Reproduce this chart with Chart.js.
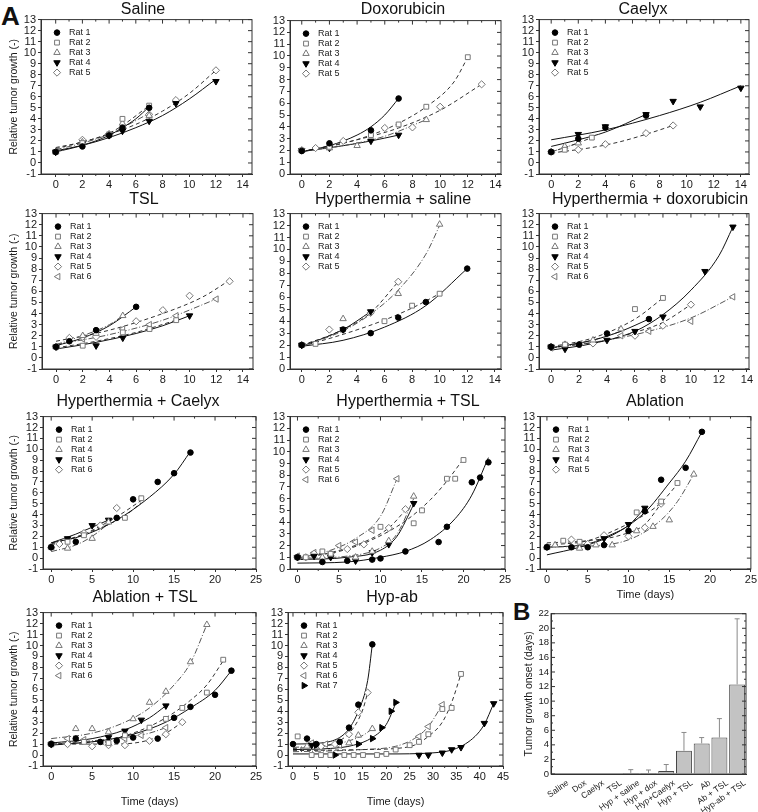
<!DOCTYPE html>
<html>
<head>
<meta charset="utf-8">
<title>Relative tumor growth</title>
<script src="https://cdn.jsdelivr.net/npm/chart.js@4.4.1/dist/chart.umd.min.js"></script>
<style>
  body { margin: 0; width: 758px; height: 812px; position: relative; overflow: hidden; background: #fff;
         font-family: "Liberation Sans", Arial, sans-serif; color: #111; }
  canvas { position: absolute; }
  .ttl { position: absolute; font-size: 16px; white-space: nowrap; transform: translate(-50%, -50%); }
  .tag { position: absolute; font-size: 26px; font-weight: bold; line-height: 1; }
</style>
</head>
<body>
<div class="tag" style="left:1px;top:3px">A</div>
<div class="tag" style="left:513px;top:600px;font-size:24px">B</div>
<script>
// axis ticks
const days14 = [0, 2, 4, 6, 8, 10, 12, 14];
const days25 = [0, 5, 10, 15, 20, 25];
const days45 = [0, 5, 10, 15, 20, 25, 30, 35, 40, 45];
const growthTicks = [-1, 0, 1, 2, 3, 4, 5, 6, 7, 8, 9, 10, 11, 12, 13];
const growthTicksPos = [0, 1, 2, 3, 4, 5, 6, 7, 8, 9, 10, 11, 12, 13];
const onsetTicks = [0, 2, 4, 6, 8, 10, 12, 14, 16, 18, 20, 22];

const rats = ['Rat 1', 'Rat 2', 'Rat 3', 'Rat 4', 'Rat 5', 'Rat 6', 'Rat 7'];
const hypCaelyxRats = ['Rat 1', 'Rat 2', 'Rat 4', 'Rat 5', 'Rat 6'];

// measured points [day, relative growth] per rat, and read-off fit curves
const salinePts = [
  [[0, 1], [2, 1.5], [4, 2.5], [5, 3.2], [7, 5.0]],
  [[0, 1], [2, 1.8], [4, 2.6], [5, 4.0], [7, 5.2]],
  [[0, 1], [2, 1.9], [4, 2.6], [5, 3.6], [7, 4.3]],
  [[0, 1], [2, 1.7], [4, 2.5], [5, 2.9], [7, 3.8], [9, 5.4], [12, 7.4]],
  [[0, 1], [2, 2.1], [4, 2.6], [5, 3.1], [7, 4.4], [9, 5.7], [12, 8.4]]
];
const salineFit = [
  [[0, 1.0], [2, 1.6], [4, 2.5], [5, 3.2], [6, 4.0], [7, 5.1]],
  [[0, 1.4], [2, 1.9], [4, 2.7], [5, 3.4], [7, 5.2]],
  [[0, 1.2], [2, 1.8], [4, 2.6], [5, 3.2], [7, 4.5]],
  [[0, 1.1], [2, 1.6], [4, 2.3], [6, 3.2], [8, 4.3], [10, 5.8], [12, 7.6]],
  [[0, 1.3], [2, 1.9], [4, 2.6], [6, 3.5], [8, 4.7], [10, 6.3], [12, 8.4]]
];

const doxPts = [
  [[0, 1.95], [2, 2.6], [5, 3.7], [7, 6.4]],
  [[0, 2.0], [2, 2.3], [5, 3.3], [7, 4.2], [9, 5.7], [12, 9.9]],
  [[0, 2.0], [2, 2.2], [4, 2.4], [9, 4.6]],
  [[0, 2.0], [2, 2.2], [5, 2.8], [7, 3.3]],
  [[0, 2.0], [1, 2.2], [3, 2.8], [6, 3.9], [8, 3.95], [10, 5.7], [13, 7.6]]
];
const doxFit = [
  [[0, 1.9], [2, 2.4], [4, 3.3], [5, 4.0], [6, 5.0], [7, 6.4]],
  [[0, 1.9], [3, 2.6], [5, 3.3], [7, 4.3], [9, 5.7], [11, 7.8], [12, 9.9]],
  [[0, 1.9], [3, 2.4], [6, 3.2], [9, 4.6]],
  [[0, 1.9], [3, 2.4], [5, 2.8], [7, 3.3]],
  [[0, 1.9], [4, 2.9], [7, 3.9], [10, 5.4], [13, 7.6]]
];

const caelyxPts = [
  [[0, 1.0], [2, 2.2], [4, 3.2], [7, 4.3]],
  [[0, 1.0], [1, 1.2], [3, 2.3]],
  [[0, 1.0], [1, 1.5], [2, 1.8]],
  [[2, 2.6], [4, 3.3], [7, 4.4], [9, 5.6], [11, 5.1], [14, 6.8]],
  [[0, 1.0], [2, 1.2], [4, 1.7], [7, 2.7], [9, 3.4]]
];
const caelyxFit = [
  [[0, 1.5], [2, 2.1], [4, 2.8], [7, 4.4]],
  [[0, 1.0], [1.5, 1.6], [3, 2.3]],
  [[0, 1.0], [1, 1.4], [2, 1.8]],
  [[0, 2.1], [4, 3.0], [8, 4.3], [11, 5.5], [14, 7.0]],
  [[0, 0.9], [3, 1.4], [5, 1.9], [7, 2.6], [9, 3.4]]
];

const tslPts = [
  [[0, 1.0], [1, 1.5], [3, 2.5], [6, 4.6]],
  [[0, 1.0], [2, 1.1], [5, 2.3], [7, 2.6], [9, 3.4]],
  [[0, 1.0], [2, 2.0], [3, 2.2], [5, 3.8]],
  [[0, 1.0], [3, 1.1], [5, 1.8], [10, 3.8]],
  [[0, 1.0], [1, 1.8], [2, 1.9], [3, 1.9], [6, 3.3], [8, 4.3], [10, 5.6], [13, 6.9]],
  [[0, 1.0], [2, 1.7], [5, 2.6], [7, 3.0], [9, 3.8], [12, 5.3]]
];
const tslFit = [
  [[0, 1.1], [2, 1.8], [4, 2.9], [6, 4.6]],
  [[0, 0.9], [3, 1.5], [6, 2.3], [9, 3.4]],
  [[0, 1.2], [2, 2.0], [4, 3.0], [5, 3.8]],
  [[0, 0.8], [3, 1.4], [6, 2.2], [8, 2.9], [10, 3.8]],
  [[0, 1.5], [4, 2.5], [8, 4.0], [11, 5.5], [13, 7.0]],
  [[0, 1.2], [4, 2.1], [8, 3.4], [12, 5.3]]
];

const hypSalinePts = [
  [[0, 2.0], [3, 3.3], [5, 3.0], [7, 4.3], [9, 5.6], [12, 8.4]],
  [[0, 2.0], [1, 2.1], [6, 4.0], [8, 5.3], [10, 6.3]],
  [[0, 2.0], [3, 4.2], [7, 6.3], [10, 12.1]],
  [[0, 2.0], [3, 3.3], [5, 4.8]],
  [[0, 2.0], [2, 3.3], [5, 4.7], [7, 7.3]]
];
const hypSalineFit = [
  [[0, 1.9], [3, 2.4], [6, 3.5], [9, 5.3], [12, 8.4]],
  [[0, 1.9], [3, 2.9], [6, 4.1], [8, 5.1], [10, 6.3]],
  [[0, 1.9], [3, 3.2], [5, 4.6], [7, 6.6], [9, 9.6], [10, 12.0]],
  [[0, 1.9], [3, 3.3], [5, 4.8]],
  [[0, 2.0], [2, 2.8], [4, 3.9], [5, 4.7], [7, 7.3]]
];

const hypDoxPts = [
  [[0, 1.0], [2, 1.2], [4, 2.2], [7, 3.5]],
  [[0, 1.0], [1, 1.2], [6, 4.4], [8, 5.4]],
  [[0, 1.0], [1, 1.2], [3, 1.6], [5, 2.6]],
  [[0, 1.0], [1, 0.8], [4, 1.6], [6, 2.4], [8, 3.7], [11, 7.8], [13, 11.8]],
  [[0, 1.0], [1, 1.2], [3, 1.3], [6, 2.0], [8, 2.9], [10, 4.8]],
  [[0, 0.9], [2, 1.2], [5, 2.0], [7, 2.4], [10, 3.3], [13, 5.5]]
];
const hypDoxFit = [
  [[0, 0.9], [3, 1.6], [5, 2.4], [7, 3.5]],
  [[0, 1.0], [3, 1.8], [6, 3.5], [8, 5.4]],
  [[0, 0.9], [3, 1.6], [5, 2.4]],
  [[0, 0.7], [3, 1.3], [6, 2.4], [8, 3.9], [10, 6.1], [12, 9.2], [13, 11.8]],
  [[0, 0.9], [4, 1.6], [6, 2.3], [8, 3.2], [10, 4.8]],
  [[0, 0.9], [4, 1.6], [7, 2.4], [10, 3.6], [13, 5.5]]
];

const hypCaelyxPts = [
  [[0, 1.0], [3, 1.5], [8, 3.7], [10, 5.4], [13, 7.0], [15, 7.8], [17, 9.7]],
  [[0, 1.0], [2, 1.5], [4, 2.1], [9, 3.7], [11, 5.5]],
  [[0, 1.0], [2, 0.9], [5, 1.8], [7, 3.3]],
  [[2, 1.8], [5, 3.0], [7, 3.5]],
  [[0, 1.0], [1, 1.3], [4, 2.3], [6, 3.0], [8, 4.6]]
];
const hypCaelyxFit = [
  [[0, 1.4], [4, 2.1], [8, 3.5], [12, 5.6], [15, 7.7], [17, 9.8]],
  [[0, 1.3], [4, 2.2], [9, 3.9], [11, 5.1]],
  [[0, 0.6], [3, 1.2], [5, 2.0], [7, 3.2], [8, 4.0]],
  [[0, 1.4], [3, 2.2], [7, 3.5]],
  [[0, 1.2], [4, 2.2], [8, 3.8], [11, 5.3]]
];

const hypTslPts = [
  [[0, 1.0], [3, 0.6], [6, 0.7], [9, 0.8], [10, 0.9], [13, 1.5], [17, 2.3], [18, 3.6], [21, 7.4], [22, 7.8], [23, 9.1]],
  [[0, 1.0], [1, 1.0], [3, 1.5], [4, 1.3], [10, 3.6], [14, 3.9], [15, 5.0], [18, 7.7], [19, 7.7], [20, 9.3]],
  [[0, 1.0], [3, 1.0], [7, 1.0], [9, 1.5], [11, 2.4], [14, 6.2]],
  [[0, 1.0], [2, 1.1], [4, 1.0], [7, 0.7], [9, 1.4], [11, 2.1], [14, 5.6]],
  [[0, 1.0], [1, 1.0], [2, 1.3], [4, 1.3], [6, 1.7], [8, 2.1], [11, 3.5], [13, 5.1]],
  [[0, 1.1], [2, 1.4], [5, 2.0], [7, 2.3], [9, 3.3], [12, 7.7]]
];
const hypTslFit = [
  [[0, 0.5], [6, 0.6], [10, 1.0], [13, 1.5], [16, 2.5], [19, 4.3], [21, 6.3], [23, 9.5]],
  [[0, 1.0], [5, 1.5], [9, 2.5], [13, 4.1], [16, 5.9], [18, 7.5], [20, 9.4]],
  [[0, 0.9], [6, 1.1], [10, 1.8], [12, 3.0], [14, 6.0]],
  [[0, 0.8], [6, 1.0], [10, 1.6], [12, 2.8], [14, 5.5]],
  [[0, 0.9], [4, 1.4], [8, 2.3], [11, 3.5], [13, 5.0]],
  [[0, 0.9], [4, 1.6], [7, 2.6], [10, 4.5], [12, 7.7]]
];

const ablationPts = [
  [[0, 1.0], [3, 1.0], [5, 1.0], [7, 1.2], [10, 2.5], [12, 4.3], [14, 7.2], [17, 8.3], [19, 11.6]],
  [[0, 1.0], [2, 1.6], [4, 1.5], [11, 4.2], [14, 5.2], [16, 6.9]],
  [[0, 1.0], [1, 1.2], [4, 0.9], [6, 1.2], [8, 1.2], [11, 2.5], [13, 2.9], [15, 3.5], [18, 7.7]],
  [[7, 1.8], [10, 3.1], [12, 4.6]],
  [[0, 1.0], [3, 1.7], [5, 1.3], [7, 2.1], [10, 2.0], [12, 2.8], [14, 5.0]]
];
const ablationFit = [
  [[0, 0.3], [4, 1.0], [8, 2.1], [12, 4.2], [15, 6.9], [17, 8.9], [19, 11.6]],
  [[0, 1.2], [5, 1.6], [9, 2.8], [12, 4.0], [14, 5.1], [16, 6.8]],
  [[0, 1.0], [8, 1.3], [11, 2.0], [14, 3.5], [16, 5.2], [18, 7.7]],
  [[0, 1.0], [5, 1.3], [8, 2.2], [10, 3.0], [12, 4.6]],
  [[0, 1.4], [5, 1.6], [9, 2.1], [12, 3.1], [14, 5.0]]
];

const ablTslPts = [
  [[0, 1.0], [3, 1.5], [6, 1.2], [8, 1.3], [10, 1.6], [13, 1.5], [15, 3.4], [17, 4.4], [20, 5.5], [22, 7.7]],
  [[0, 1.0], [4, 1.2], [7, 1.1], [9, 1.8], [12, 2.5], [14, 3.3], [16, 4.3], [19, 5.7], [21, 8.7]],
  [[0, 1.0], [3, 2.4], [5, 2.4], [7, 2.1], [10, 3.3], [12, 4.8], [14, 5.8], [17, 8.5], [19, 11.9]],
  [[0, 1.0], [7, 1.6], [9, 2.2], [11, 3.2], [14, 4.5]],
  [[0, 1.0], [2, 1.0], [5, 0.8], [7, 0.9], [9, 0.9], [12, 1.3], [14, 1.9], [16, 3.0]],
  [[0, 1.0], [2, 1.5], [4, 1.4], [7, 1.2], [9, 1.5], [11, 1.8], [14, 2.5]]
];
const ablTslFit = [
  [[0, 0.9], [6, 1.3], [10, 1.9], [14, 3.0], [17, 4.3], [20, 5.9], [22, 7.7]],
  [[0, 1.0], [6, 1.3], [10, 2.0], [14, 3.4], [17, 5.0], [19, 6.4], [21, 8.6]],
  [[0, 1.5], [5, 2.0], [9, 3.0], [12, 4.3], [15, 6.4], [17, 8.4], [19, 11.9]],
  [[0, 1.1], [5, 1.5], [9, 2.3], [12, 3.4], [14, 4.5]],
  [[0, 1.0], [7, 1.0], [11, 1.2], [14, 2.0], [16, 3.0]],
  [[0, 1.0], [5, 1.3], [9, 1.6], [12, 2.0], [14, 2.5]]
];

const hypAbPts = [
  [[0, 1.0], [3, 1.5], [5, 1.0], [10, 1.2], [12, 2.5], [14, 4.6], [17, 10.1]],
  [[1, 1.7], [4, 0], [6, 0], [8, 0], [11, 0], [13, 0], [15, 0], [18, 0], [20, 0.1], [22, 0.5], [25, 0.9], [27, 1.2], [29, 1.9], [32, 4.2], [34, 4.3], [36, 7.4]],
  [[3, 0.8], [12, 1.1], [14, 1.8], [17, 2.4]],
  [[4, 0.9], [27, 0], [29, 0], [32, 0.2], [34, 0.5], [36, 0.7], [41, 2.9], [43, 4.7]],
  [[6, 0.8], [9, 1.0], [12, 1.9], [14, 3.9], [16, 5.7]],
  [[4, 1.1], [7, 1.0], [10, 0.9], [27, 1.7], [29, 2.6], [32, 4.6]],
  [[5, 0.9], [9, 0], [14, 1.0], [17, 1.5], [19, 2.5], [21, 4.0], [22, 4.8]]
];
const hypAbFit = [
  [[0, 1.0], [6, 1.1], [10, 1.6], [12, 2.4], [14, 4.0], [16, 6.8], [17, 10.1]],
  [[0, 0.4], [15, 0.5], [22, 0.6], [26, 0.9], [29, 1.7], [32, 3.0], [34, 4.8], [36, 7.4]],
  [[0, 0.7], [8, 0.9], [12, 1.3], [15, 1.8], [17, 2.4]],
  [[0, 0.1], [20, 0.1], [30, 0.2], [35, 0.6], [39, 1.7], [41, 2.8], [43, 4.7]],
  [[0, 0.6], [6, 0.8], [10, 1.3], [13, 2.5], [15, 4.2], [16, 5.7]],
  [[0, 0.3], [15, 0.5], [22, 0.8], [26, 1.5], [29, 2.6], [32, 4.6]],
  [[0, 0.5], [8, 0.6], [13, 0.9], [17, 1.6], [20, 2.8], [22, 4.7]]
];

// panel B
const onsetGroups = ['Saline', 'Dox', 'Caelyx', 'TSL', 'Hyp + saline', 'Hyp + dox', 'Hyp+Caelyx', 'Hyp + TSL', 'Ab', 'Ab + TSL', 'Hyp-ab + TSL'];
const onsetMean = [0, 0, 0, 0, 0.15, 0.15, 0.4, 3.2, 4.2, 5.0, 12.3];
const onsetSd = [0, 0, 0, 0, 0.45, 0.4, 0.9, 2.5, 0.8, 2.6, 9.0];

Chart.defaults.font.family = '"Liberation Sans", Arial, sans-serif';
Chart.defaults.color = '#1a1a1a';
Chart.defaults.animation = false;

// marker and line look per rat slot
const marks = [
  { style: 'circle', rot: 0, r: 2.8, fill: '#000', line: '#000' },
  { style: 'rect', rot: 0, r: 3.4, fill: '#fff', line: '#777' },
  { style: 'triangle', rot: 0, r: 3.7, fill: '#fff', line: '#777' },
  { style: 'triangle', rot: 180, r: 3.7, fill: '#000', line: '#000' },
  { style: 'rectRot', rot: 0, r: 3.6, fill: '#fff', line: '#777' },
  { style: 'triangle', rot: 270, r: 3.7, fill: '#fff', line: '#777' },
  { style: 'triangle', rot: 90, r: 3.7, fill: '#000', line: '#000' }
];
const curves = [
  { color: '#111', dash: [] },
  { color: '#333', dash: [4, 3] },
  { color: '#555', dash: [6, 2, 1, 2] },
  { color: '#111', dash: [] },
  { color: '#333', dash: [4, 3] },
  { color: '#555', dash: [6, 2, 1, 2] },
  { color: '#111', dash: [] }
];

function drawMark(ctx, i, x, y) {
  const m = marks[i];
  ctx.fillStyle = m.fill;
  ctx.strokeStyle = m.line;
  ctx.lineWidth = 1;
  if (Chart.helpers && Chart.helpers.drawPoint) {
    Chart.helpers.drawPoint(ctx, { pointStyle: m.style, rotation: m.rot, radius: m.r, borderWidth: 1 }, x, y);
  } else {
    ctx.beginPath(); ctx.arc(x, y, m.r, 0, Math.PI * 2); ctx.fill(); ctx.stroke();
  }
}

// box, extra ticks and the in-plot legend
function frame(names, opt) {
  opt = opt || {};
  return {
    id: 'frame',
    afterDatasetsDraw(chart) {
      const { ctx, chartArea: a } = chart;
      const xs = chart.scales.x, ys = chart.scales.y;
      ctx.save();
      ctx.lineWidth = 1;
      ctx.strokeStyle = '#333';
      ctx.setLineDash([]);
      ctx.strokeRect(a.left, a.top, a.width, a.height);
      ctx.beginPath();
      const seg = (x1, y1, x2, y2) => { ctx.moveTo(x1, y1); ctx.lineTo(x2, y2); };
      if (xs.type === 'linear') {
        const v = xs.ticks.map(t => t.value);
        v.forEach((val, i) => {
          const p = xs.getPixelForValue(val);
          seg(p, a.top, p, a.top + 4);
          if (i + 1 < v.length) {
            const m = xs.getPixelForValue((val + v[i + 1]) / 2);
            seg(m, a.top, m, a.top + 2);
            seg(m, a.bottom, m, a.bottom + 2);
          }
        });
      }
      const yv = ys.ticks.map(t => t.value);
      yv.forEach((val, i) => {
        const p = ys.getPixelForValue(val);
        seg(a.right, p, a.right - 4, p);
        if (opt.inward) seg(a.left, p, a.left + 4, p);
        if (opt.yMinor && i + 1 < yv.length) {
          const m = ys.getPixelForValue((val + yv[i + 1]) / 2);
          seg(a.right, m, a.right - 2, m);
          seg(a.left, m, a.left + 2, m);
        }
      });
      ctx.stroke();
      if (names) {
        names.forEach((n, i) => {
          const y = a.top + 13 + i * 10;
          drawMark(ctx, i, a.left + 16, y);
          ctx.fillStyle = '#1a1a1a';
          ctx.font = '9px "Liberation Sans", Arial, sans-serif';
          ctx.textBaseline = 'middle';
          ctx.textAlign = 'left';
          ctx.fillText(n, a.left + 28, y);
        });
      }
      ctx.restore();
    }
  };
}

function addCanvas(left, top, w, h) {
  const cv = document.createElement('canvas');
  cv.width = w; cv.height = h;
  cv.style.left = left + 'px';
  cv.style.top = top + 'px';
  cv.style.width = w + 'px';
  cv.style.height = h + 'px';
  document.body.appendChild(cv);
  return cv;
}

function addTitle(text, x, y) {
  const d = document.createElement('div');
  d.className = 'ttl';
  d.textContent = text;
  d.style.left = x + 'px';
  d.style.top = y + 'px';
  document.body.appendChild(d);
}

function growthPanel(p) {
  const [l, t, r, b] = p.rect;
  const pl = p.yTitle ? 4 : 0;
  const yw = p.yTitle ? l - 4 : 30;
  const xh = p.xh || 20;
  const pr = p.pr || 8;
  const padTop = 7;
  const left = l - yw - pl, top = t - padTop;
  const cv = addCanvas(left, top, r + pr - left, b + xh - top);
  const names = p.names || rats.slice(0, p.pts.length);

  const datasets = [];
  p.fit.forEach((f, i) => datasets.push({
    data: f.map(q => ({ x: q[0], y: q[1] })),
    showLine: true, pointRadius: 0, fill: false,
    borderColor: curves[i].color, borderWidth: 1, borderDash: curves[i].dash,
    cubicInterpolationMode: 'monotone', order: 2
  }));
  p.pts.forEach((s, i) => datasets.push({
    label: names[i],
    data: s.map(q => ({ x: q[0], y: q[1] })),
    showLine: false,
    pointStyle: marks[i].style, pointRotation: marks[i].rot, pointRadius: marks[i].r,
    pointBackgroundColor: marks[i].fill, pointBorderColor: marks[i].line, pointBorderWidth: 1,
    order: 1
  }));

  new Chart(cv, {
    type: 'scatter',
    data: { datasets },
    plugins: [frame(names)],
    options: {
      responsive: false, devicePixelRatio: 1, animation: false, events: [],
      layout: { padding: { left: pl, top: padTop, right: pr, bottom: 0 } },
      plugins: { legend: { display: false }, tooltip: { enabled: false } },
      scales: {
        x: {
          type: 'linear', min: p.xr[0], max: p.xr[1],
          afterBuildTicks: s => { s.ticks = p.xt.map(v => ({ value: v })); },
          afterFit: s => { s.height = xh; },
          grid: { drawOnChartArea: false, tickLength: 3, color: '#333' },
          border: { color: '#333' },
          ticks: { font: { size: 11 }, padding: 1, maxRotation: 0, autoSkip: false },
          title: { display: !!p.xTitle, text: 'Time (days)', font: { size: 11 }, padding: { top: 0, bottom: 4 } }
        },
        y: {
          type: 'linear', min: p.yr[0], max: p.yr[1],
          afterBuildTicks: s => { s.ticks = p.yt.map(v => ({ value: v })); },
          afterFit: s => { s.width = yw; },
          grid: { drawOnChartArea: false, tickLength: 3, color: '#333' },
          border: { color: '#333' },
          ticks: { font: { size: 11 }, padding: 2, autoSkip: false },
          title: { display: !!p.yTitle, text: 'Relative tumor growth (-)', font: { size: 10.5 }, padding: { top: 4, bottom: 0 } }
        }
      }
    }
  });
  addTitle(p.title, p.tx, p.ty);
}

const panels = [
  { title: 'Saline', pts: salinePts, fit: salineFit, rect: [41, 18, 252, 174], xr: [-1.1, 14.7], xt: days14, yr: [-1, 13], yt: growthTicks, yTitle: true, tx: 143, ty: 9 },
  { title: 'Doxorubicin', pts: doxPts, fit: doxFit, rect: [290, 19, 501, 174], xr: [-0.85, 14.4], xt: days14, yr: [0, 13], yt: growthTicksPos, tx: 403, ty: 9 },
  { title: 'Caelyx', pts: caelyxPts, fit: caelyxFit, rect: [539, 18, 749, 174], xr: [-0.9, 14.6], xt: days14, yr: [-1, 13], yt: growthTicks, tx: 643, ty: 9 },
  { title: 'TSL', pts: tslPts, fit: tslFit, rect: [42, 212, 253, 369], xr: [-1.05, 14.75], xt: days14, yr: [-1, 13], yt: growthTicks, yTitle: true, tx: 144, ty: 199 },
  { title: 'Hyperthermia + saline', pts: hypSalinePts, fit: hypSalineFit, rect: [290, 212, 501, 369], xr: [-0.85, 14.45], xt: days14, yr: [0, 13], yt: growthTicksPos, tx: 393, ty: 199 },
  { title: 'Hyperthermia + doxorubicin', pts: hypDoxPts, fit: hypDoxFit, rect: [539, 212, 749, 369], xr: [-0.86, 14.15], xt: days14, yr: [-1, 13], yt: growthTicks, tx: 650, ty: 199 },
  { title: 'Hyperthermia + Caelyx', pts: hypCaelyxPts, fit: hypCaelyxFit, names: hypCaelyxRats, rect: [43, 415, 256, 569], xr: [-1, 25], xt: days25, yr: [-1, 13], yt: growthTicks, yTitle: true, tx: 138, ty: 401 },
  { title: 'Hyperthermia + TSL', pts: hypTslPts, fit: hypTslFit, rect: [290, 415, 505, 569], xr: [-0.9, 25], xt: days25, yr: [0, 13], yt: growthTicksPos, tx: 408, ty: 401 },
  { title: 'Ablation', pts: ablationPts, fit: ablationFit, rect: [540, 415, 753, 569], xr: [-0.85, 25], xt: days25, yr: [-1, 13], yt: growthTicks, xTitle: true, xh: 37, pr: 5, tx: 655, ty: 401 },
  { title: 'Ablation + TSL', pts: ablTslPts, fit: ablTslFit, rect: [43, 611, 256, 766], xr: [-1, 25], xt: days25, yr: [-1, 13], yt: growthTicks, yTitle: true, xTitle: true, xh: 47, tx: 145, ty: 597 },
  { title: 'Hyp-ab', pts: hypAbPts, fit: hypAbFit, rect: [288, 611, 503, 766], xr: [-1.07, 45], xt: days45, yr: [-1, 13], yt: growthTicks, xTitle: true, xh: 47, tx: 392, ty: 597 }
];
panels.forEach(growthPanel);

// panel B: onset of tumor growth
(function () {
  const rect = [551, 613, 746, 774];
  const left = 519, top = rect[1] - 7;
  const cv = addCanvas(left, top, rect[2] + 8 - left, 812 - top);
  const errBars = {
    id: 'errBars',
    afterDatasetsDraw(chart) {
      const ctx = chart.ctx, ys = chart.scales.y;
      const bars = chart.getDatasetMeta(0).data;
      ctx.save();
      ctx.strokeStyle = '#8a8a8a';
      ctx.lineWidth = 1;
      ctx.beginPath();
      bars.forEach((bar, i) => {
        if (!onsetSd[i]) return;
        const y0 = ys.getPixelForValue(onsetMean[i]);
        const y1 = ys.getPixelForValue(onsetMean[i] + onsetSd[i]);
        ctx.moveTo(bar.x, y0); ctx.lineTo(bar.x, y1);
        ctx.moveTo(bar.x - 2.5, y1); ctx.lineTo(bar.x + 2.5, y1);
      });
      ctx.stroke();
      ctx.restore();
    }
  };
  new Chart(cv, {
    type: 'bar',
    data: {
      labels: onsetGroups,
      datasets: [{
        data: onsetMean, backgroundColor: '#c3c3c3', borderColor: '#444', borderWidth: 1,
        barPercentage: 0.9, categoryPercentage: 1.0
      }]
    },
    plugins: [errBars, frame(null, { inward: true, yMinor: true })],
    options: {
      responsive: false, devicePixelRatio: 1, animation: false, events: [],
      layout: { padding: { left: 0, top: 7, right: 8, bottom: 0 } },
      plugins: { legend: { display: false }, tooltip: { enabled: false } },
      scales: {
        x: {
          afterFit: s => { s.height = 812 - rect[3]; },
          grid: { drawOnChartArea: false, drawTicks: false },
          border: { color: '#333' },
          ticks: { font: { size: 8.5 }, minRotation: 35, maxRotation: 35, autoSkip: false, padding: 4, labelOffset: 8 }
        },
        y: {
          min: 0, max: 22,
          afterBuildTicks: s => { s.ticks = onsetTicks.map(v => ({ value: v })); },
          afterFit: s => { s.width = rect[0] - left; },
          grid: { drawOnChartArea: false, drawTicks: false },
          border: { color: '#333' },
          ticks: { font: { size: 9.5 }, padding: 2, autoSkip: false },
          title: { display: true, text: 'Tumor growth onset (days)', font: { size: 10.5 }, padding: { top: 4, bottom: 0 } }
        }
      }
    }
  });
})();
</script>
</body>
</html>
